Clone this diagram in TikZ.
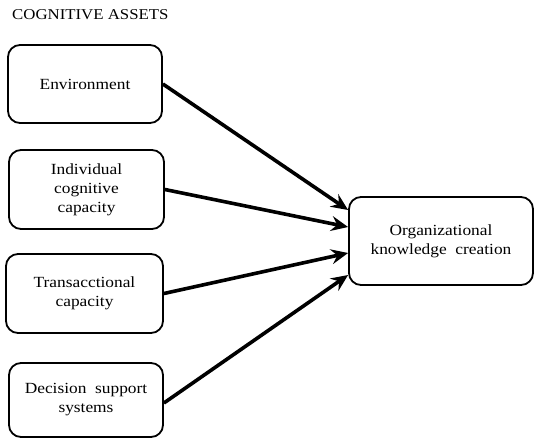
\documentclass[tikz,border=0pt]{standalone}
\usepackage{fontspec}
\setmainfont[FakeStretch=1.12]{Liberation Serif}
\usetikzlibrary{arrows.meta}
\begin{document}
\begin{tikzpicture}[x=1pt,y=-1pt,
  box/.style={draw,line width=1.8pt,rounded corners=12pt,align=center,
    font=\fontsize{15.5}{19}\selectfont,inner sep=0pt},
  arr/.style={line width=3.6pt,-{Stealth[length=17pt,width=15pt,inset=6pt]}}]
\useasboundingbox (0,0) rectangle (534,439);
\node[anchor=west,font=\fontsize{15}{18}\selectfont,inner sep=0pt] (title) at (12,15) {COGNITIVE ASSETS};
\node[box,minimum width=154pt,minimum height=78pt] (b1) at (85,84) {Environment};
\node[box,minimum width=155pt,minimum height=79pt] (b2) at (86.5,189.5) {Individual\\cognitive\\capacity};
\node[box,minimum width=157pt,minimum height=79pt] (b3) at (84.5,293.5) {Transacctional\\capacity};
\node[box,minimum width=154pt,minimum height=74pt] (b4) at (86,400) {Decision\ \ support\\systems};
\node[box,minimum width=184pt,minimum height=88pt] (org) at (441,241) {Organizational\\knowledge\ \ creation};
\draw[arr] (b1.east) -- ([yshift=31pt]org.west);
\draw[arr] (b2.east) -- ([yshift=14pt]org.west);
\draw[arr] (b3.east) -- ([yshift=-12pt]org.west);
\draw[arr] ([yshift=-3pt]b4.east) -- ([yshift=-34pt]org.west);
\end{tikzpicture}
\end{document}
